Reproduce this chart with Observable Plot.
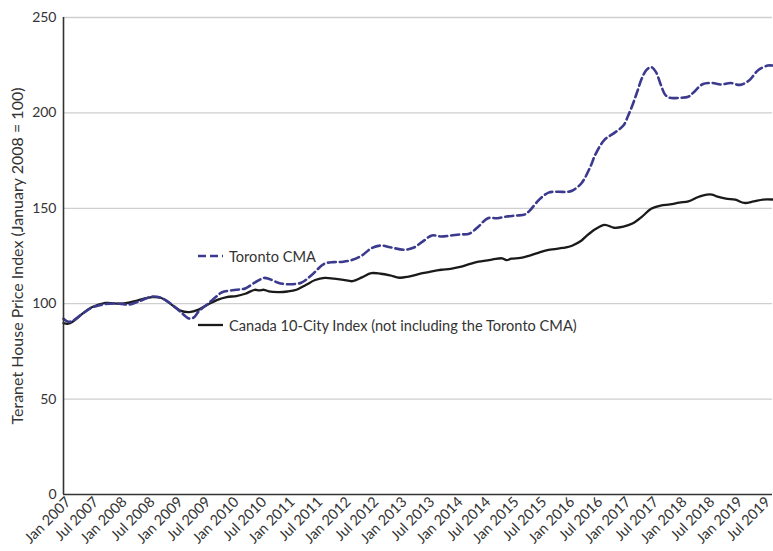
<!DOCTYPE html>
<html>
<head>
<meta charset="utf-8">
<script src="https://cdn.jsdelivr.net/npm/d3@7"></script>
<script src="https://cdn.jsdelivr.net/npm/@observablehq/plot@0.6"></script>
<style>
  html, body { margin: 0; padding: 0; background: #fff; }
  #wrap { position: relative; width: 773px; height: 551px; font-family: Lato, "Open Sans", sans-serif; }
  .leg { position: absolute; display: flex; align-items: center; font-size: 14.6px; color: #333; white-space: nowrap; }
  .leg svg { margin-right: 5px; }
</style>
</head>
<body>
<div id="wrap"></div>
<script>
// Months since Jan 2007 and index values (January 2008 = 100)
const torontoMonths = [0,1,2,4,6,9,12,14,16,19,21,23,25,27,28,29,31,33,34,37,39,41,43,44,46,48,51,53,56,58,60,62,64,66,68,70,73,75,77,79,81,83,85,87,89,91,93,95,97,99,100,102,104,106,108,109,111,113,114,116,118,120,121,122,123,124,125,126,127,128,129,130,132,134,135,137,139,141,143,145,147,149,151,152];
const torontoValues = [92.1,90.5,91,94.5,97.8,99.8,100,99.5,101,103.7,103,100,95.8,92.2,92.8,96,100,104.2,106,107.3,108,111,113.5,113.1,111,110.2,111,114.5,121,121.8,122,123,125.3,129,130.5,129.6,128.3,129.3,132.5,135.8,135.2,135.7,136.3,136.7,140.5,144.8,144.8,145.7,146.2,146.8,148.8,154.5,158.2,158.7,158.6,159.2,163,172,178,186,189.4,193.4,198.5,204,211,218,222.5,224,221.5,215,209.5,207.9,207.9,208.5,210.5,215,215.7,214.9,215.7,214.7,217,222.5,224.8,224.8];

const canadaMonths = [0,1,2,4,6,9,12,14,16,19,21,23,25,27,29,31,33,35,37,39,41,42,43,44,46,48,50,52,54,56,58,60,62,64,66,68,70,72,74,77,79,81,83,85,87,89,92,94,95,96,98,100,102,104,107,108,109,111,112,114,116,118,120,122,124,126,128,130,132,134,136,137,139,140,142,144,146,148,150,152];
const canadaValues = [89.8,89.5,90.5,94.5,98,100.4,100,100.5,101.8,103.4,103,99.8,96.4,95.6,96.9,99.6,102,103.5,104,105.2,107.3,107,107.3,106.5,106.1,106.4,107.3,109.8,112.4,113.5,113.1,112.5,111.8,113.8,116,115.7,114.8,113.6,114.2,116,117,117.8,118.3,119.3,120.7,122,123.2,123.8,122.8,123.6,124,125.2,126.8,128.2,129.2,129.6,130.4,133,135.2,139,141.3,139.8,140.4,142,145.5,149.7,151.4,152,153,153.6,155.8,156.7,157.2,156.3,155.1,154.5,152.8,153.6,154.6,154.6];

const yTicks = [0, 50, 100, 150, 200, 250];
const seriesNames = ["Toronto CMA", "Canada 10-City Index (not including the Toronto CMA)"];
const yLabel = "Teranet House Price Index (January 2008 = 100)";

const toDate = m => new Date(Date.UTC(2007, m, 1));
const toronto = torontoMonths.map((m, i) => ({date: toDate(m), value: torontoValues[i]}));
const canada = canadaMonths.map((m, i) => ({date: toDate(m), value: canadaValues[i]}));
const start = toDate(0), end = toDate(152);
const xTicks = d3.utcMonth.every(6).range(start, toDate(151));
const fmt = d3.utcFormat("%b %Y");

const chart = Plot.plot({
  width: 773,
  height: 551,
  marginLeft: 63,
  marginRight: 1,
  marginTop: 17,
  marginBottom: 57,
  style: {fontFamily: "Lato, 'Open Sans', sans-serif", fontSize: "14px", color: "#333", background: "#fff"},
  x: {type: "utc", domain: [start, end]},
  y: {domain: [0, 250]},
  marks: [
    Plot.gridY(yTicks.filter(d => d > 0), {stroke: "#cfcfcf", strokeOpacity: 1, strokeWidth: 1.3}),
    Plot.axisY(yTicks, {tickSize: 0, tickPadding: 7, fontSize: 14, label: null}),
    Plot.text([yLabel], {frameAnchor: "left", textAnchor: "middle", rotate: -90, dx: -46, fontSize: 16, fill: "#333"}),
    Plot.axisX(xTicks, {tickSize: 0, tickFormat: fmt, tickRotate: -45, tickPadding: 5, dx: 5, fontSize: 14.5, label: null}),
    Plot.line(canada, {x: "date", y: "value", stroke: "#1a1a1a", strokeWidth: 2.3, curve: "catmull-rom"}),
    Plot.line(toronto, {x: "date", y: "value", stroke: "#3b3a8e", strokeWidth: 2.6, strokeDasharray: "8,4", curve: "catmull-rom"}),
    Plot.ruleY([0], {stroke: "#333", strokeWidth: 1.6}),
    Plot.ruleX([start], {stroke: "#333", strokeWidth: 1.6})
  ]
});

const wrap = document.getElementById("wrap");
wrap.appendChild(chart);

function legend(name, top, dashed) {
  const d = document.createElement("div");
  d.className = "leg";
  d.style.left = "198px";
  d.style.top = (top - 10) + "px";
  d.innerHTML = `<svg width="26" height="20"><line x1="0" x2="25" y1="10" y2="10" stroke="${dashed ? "#3b3a8e" : "#1a1a1a"}" stroke-width="${dashed ? 2.6 : 2.3}" ${dashed ? 'stroke-dasharray="8,4"' : ""}/></svg><span>${name}</span>`;
  wrap.appendChild(d);
}
legend(seriesNames[0], 256, true);
legend(seriesNames[1], 325, false);
</script>
</body>
</html>
